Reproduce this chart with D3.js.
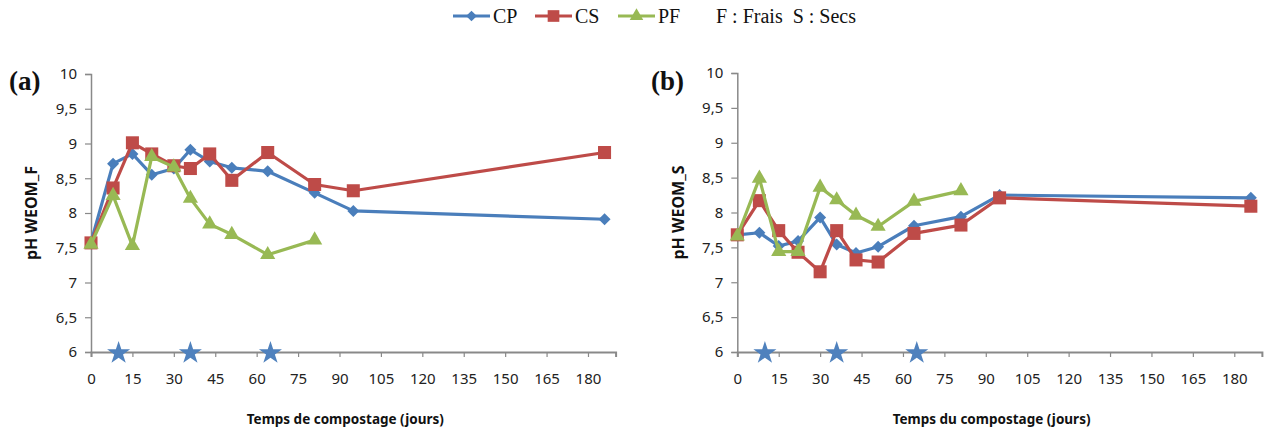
<!DOCTYPE html>
<html>
<head>
<meta charset="utf-8">
<script src="https://cdn.jsdelivr.net/npm/d3@7"></script>
<style>
  html, body { margin: 0; padding: 0; background: #fff; }
  svg { display: block; }
</style>
</head>
<body>
<svg id="chart" width="1264" height="432"></svg>
<script>
// ---- data ----
const seriesNames = ["CP", "CS", "PF"];
const days = [0, 8, 15, 22, 30, 36, 43, 51, 64, 81, 95, 186];

// Panel (a) : pH WEOM_F (frais)
const cpF = [7.58, 8.71, 8.85, 8.55, 8.64, 8.91, 8.74, 8.65, 8.60, 8.29, 8.03, 7.91];
const csF = [7.57, 8.36, 9.01, 8.85, 8.68, 8.64, 8.85, 8.47, 8.87, 8.41, 8.32, 8.87];
const pfF = [7.55, 8.25, 7.53, 8.81, 8.66, 8.21, 7.84, 7.69, 7.40, 7.61];

// Panel (b) : pH WEOM_S (secs)
const cpS = [7.68, 7.71, 7.52, 7.59, 7.93, 7.54, 7.42, 7.51, 7.81, 7.94, 8.25, 8.21];
const csS = [7.68, 8.17, 7.74, 7.43, 7.15, 7.74, 7.32, 7.29, 7.70, 7.82, 8.21, 8.09];
const pfS = [7.66, 8.49, 7.44, 7.44, 8.36, 8.18, 7.96, 7.80, 8.16, 8.31];

// Stars (sampling days) on the x axis
const starDays = [10, 36, 65];

const xTicks = [0, 15, 30, 45, 60, 75, 90, 105, 120, 135, 150, 165, 180];
const yTicks = [6, 6.5, 7, 7.5, 8, 8.5, 9, 9.5, 10];
const xDomain = [0, 190];
const yDomain = [6, 10];

const panels = [
  { tag: "(a)", yTitle: "pH WEOM_F", xTitle: "Temps de compostage (jours)", data: [cpF, csF, pfF] },
  { tag: "(b)", yTitle: "pH WEOM_S", xTitle: "Temps du compostage (jours)", data: [cpS, csS, pfS] }
];

// ---- style ----
const colors = ["#4A7EBB", "#BE4B48", "#98B954"];
const starColor = "#4F81BD";
const axisColor = "#898989";
const tickFont = "'Noto Sans', 'Open Sans', sans-serif";

const layout = [
  { x0: 91, y0: 74, y1: 352, tagX: 9, ytX: 32 },
  { x0: 737.3, y0: 73, y1: 352, tagX: 651, ytX: 679 }
];
const pxPerDay = 2.761;

const svg = d3.select("#chart");
const fr = d3.formatLocale({ decimal: ",", thousands: " ", grouping: [3], currency: ["", ""] });
const yFmt = d => (Number.isInteger(d) ? String(d) : fr.format(".1f")(d));

function markerPath(i, scale) {
  const s = scale || 1;
  if (i === 0) return d3.symbol(d3.symbolSquare, 72 * s)();      // rotated -> diamond
  if (i === 1) return d3.symbol(d3.symbolSquare, 170 * s)();
  return d3.symbol(d3.symbolTriangle, 100 * s)();
}

panels.forEach((p, pi) => {
  const L = layout[pi];
  const x = d3.scaleLinear().domain(xDomain).range([L.x0, L.x0 + pxPerDay * (xDomain[1] - xDomain[0])]);
  const y = d3.scaleLinear().domain(yDomain).range([L.y1, L.y0]);
  const g = svg.append("g");

  // y axis
  const yAxis = d3.axisLeft(y).tickValues(yTicks).tickFormat(yFmt).tickSizeOuter(0).tickSize(6).tickPadding(8);
  const ya = g.append("g").attr("transform", `translate(${L.x0},0)`).call(yAxis);
  ya.select(".domain").attr("stroke", axisColor).attr("stroke-width", 1.5);
  ya.selectAll(".tick line").attr("stroke", axisColor).attr("stroke-width", 1.2);
  ya.selectAll(".tick text").attr("font-family", tickFont).attr("font-size", 15).attr("fill", "#222");

  // x axis
  const xAxis = d3.axisBottom(x).tickValues(xTicks).tickFormat(d3.format("d")).tickSizeOuter(0).tickSize(5).tickPadding(16);
  const xa = g.append("g").attr("transform", `translate(0,${L.y1})`).call(xAxis);
  xa.select(".domain").attr("stroke", axisColor).attr("stroke-width", 2);
  xa.selectAll(".tick line").attr("stroke", axisColor).attr("stroke-width", 1.2);
  xa.selectAll(".tick text").attr("font-family", tickFont).attr("font-size", 15).attr("fill", "#222");

  // titles
  g.append("text")
    .attr("x", (x(0) + x(190)) / 2 - 8).attr("y", 424)
    .attr("text-anchor", "middle")
    .attr("font-family", tickFont).attr("font-weight", "bold").attr("font-size", 13.5)
    .attr("fill", "#111")
    .text(p.xTitle);
  g.append("text")
    .attr("transform", `translate(${L.ytX + 5},${(L.y0 + L.y1) / 2}) rotate(-90)`)
    .attr("text-anchor", "middle")
    .attr("font-family", tickFont).attr("font-weight", "bold").attr("font-size", 16)
    .attr("fill", "#111")
    .text(p.yTitle);
  g.append("text")
    .attr("x", L.tagX).attr("y", 90)
    .attr("font-family", "'Liberation Serif', 'Times New Roman', serif")
    .attr("font-weight", "bold").attr("font-size", 27)
    .attr("fill", "#111")
    .text(p.tag);

  // stars
  g.selectAll("path.star").data(starDays).enter().append("path")
    .attr("class", "star")
    .attr("d", d3.symbol(d3.symbolStar, 165)())
    .attr("transform", d => `translate(${x(d)},${y(6) + 1})`)
    .attr("fill", starColor);

  // series
  const line = d3.line().x(d => x(d[0])).y(d => y(d[1]));
  p.data.forEach((vals, si) => {
    const pts = vals.map((v, k) => [days[k], v]);
    g.append("path").datum(pts)
      .attr("d", line)
      .attr("fill", "none")
      .attr("stroke", colors[si])
      .attr("stroke-width", 3.2)
      .attr("stroke-linejoin", "round");
    g.selectAll(null).data(pts).enter().append("path")
      .attr("d", markerPath(si))
      .attr("transform", d => `translate(${x(d[0])},${y(d[1])})` + (si === 0 ? " rotate(45)" : ""))
      .attr("fill", colors[si]);
  });
});

// ---- legend ----
const leg = svg.append("g");
const legItems = [
  { x1: 453, x2: 490, tx: 493 },
  { x1: 535, x2: 572, tx: 575 },
  { x1: 618, x2: 655, tx: 658 }
];
const legY = 16;
seriesNames.forEach((name, i) => {
  const it = legItems[i];
  leg.append("line").attr("x1", it.x1).attr("x2", it.x2).attr("y1", legY).attr("y2", legY)
    .attr("stroke", colors[i]).attr("stroke-width", 3.2);
  leg.append("path").attr("d", markerPath(i, 0.8))
    .attr("transform", `translate(${(it.x1 + it.x2) / 2},${legY})` + (i === 0 ? " rotate(45)" : ""))
    .attr("fill", colors[i]);
  leg.append("text").attr("x", it.tx).attr("y", legY + 7)
    .attr("font-family", "'Liberation Serif', 'Times New Roman', serif")
    .attr("font-size", 20).attr("fill", "#111")
    .text(name);
});
leg.append("text").attr("x", 716).attr("y", legY + 7)
  .attr("font-family", "'Liberation Serif', 'Times New Roman', serif")
  .attr("font-size", 20).attr("fill", "#111")
  .attr("xml:space", "preserve")
  .text("F : Frais  S : Secs");
</script>
</body>
</html>
